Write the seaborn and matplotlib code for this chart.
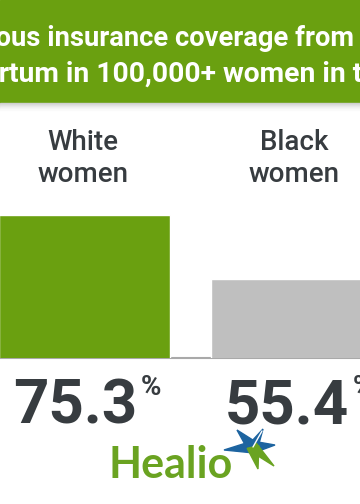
import numpy as np
import pandas as pd
import matplotlib
matplotlib.use("Agg")
import matplotlib.pyplot as plt
import seaborn as sns
from matplotlib.patches import Rectangle, Polygon
from matplotlib.lines import Line2D
from matplotlib.transforms import Affine2D, blended_transform_factory

# ---- data ----
groups = ["White\nwomen", "Black\nwomen"]
coverage = [75.3, 55.4]
value_labels = ["75.3", "55.4"]
title_lines = ["Continuous insurance coverage from",
               "postpartum in 100,000+ women in the U.S."]
brand = "Healio"

# ---- style ----
W, H, DPI = 360, 504, 100
GREEN = "#6aa010"
GRAY_BAR = "#bfbfbf"
TEXT = "#373c40"
LOGO_GREEN = "#6aa321"
LOGO_BLUE = "#1d64a0"

sns.set_theme(style="white")
plt.rcParams['font.family'] = ['Roboto', 'DejaVu Sans']

fig = plt.figure(figsize=(W / DPI, H / DPI), dpi=DPI)
fig.patch.set_facecolor("white")
px = Affine2D().scale(1, -1).translate(0, H)  # pixel coords, origin top-left

# ---- title band ----
fig.patches.append(Rectangle((0, 0), W, 103, transform=px, color=GREEN, zorder=0))
shades = ["#cfcfcf", "#d8d8d8", "#e0e0e0", "#e8e8e8", "#efefef", "#f5f5f5", "#fafafa"]
for k, c in enumerate(shades):
    fig.patches.append(Rectangle((0, 103 + k), W, 1, transform=px, color=c, zorder=0))

fig.text(354, 46, title_lines[0], ha="right", va="baseline", color="white",
         fontsize=19.7, fontweight="bold", transform=px)

fig.canvas.draw()
r = fig.canvas.get_renderer()
def width_of(s, size):
    t = fig.text(0, 0, s, fontsize=size, fontweight="bold")
    w = t.get_window_extent(r).width
    t.remove()
    return w
L2 = 20.3
full_w = width_of(title_lines[1], L2)
suffix_w = width_of("the U.S.", L2)
fig.text(353 - (full_w - suffix_w), 82, title_lines[1], ha="left", va="baseline",
         color="white", fontsize=L2, fontweight="bold", transform=px)

# ---- bars ----
ax = fig.add_axes([0, (H - 358) / H, 1, (358 - 110) / H])
df = pd.DataFrame({"group": groups, "coverage": coverage})
sns.barplot(data=df, x="group", y="coverage", hue="group",
            palette=[GREEN, GRAY_BAR], width=0.81, saturation=1,
            legend=False, ax=ax)
ax.set_xlim(-0.40, 1.30)
ax.set_ylim(31, 108)
ax.axis("off")
ax.axhline(31, color="#a9a9a9", lw=1.5, clip_on=False, zorder=0.5)

bt = blended_transform_factory(ax.transData, px)
for i, g in enumerate(groups):
    l1, l2 = g.split("\n")
    ax.text(i - 0.01, 150, l1, transform=bt, ha="center", va="baseline",
            fontsize=20, fontweight="medium", color=TEXT, clip_on=False)
    ax.text(i - 0.01, 182, l2, transform=bt, ha="center", va="baseline",
            fontsize=20, fontweight="medium", color=TEXT, clip_on=False)
    ax.annotate(value_labels[i], xy=(i, 423), xycoords=bt, xytext=(53, 0),
                textcoords="offset pixels", ha="right", va="baseline",
                fontsize=44.5, fontweight="bold", color=TEXT, annotation_clip=False)
    ax.annotate("%", xy=(i, 395), xycoords=bt, xytext=(56, 0),
                textcoords="offset pixels", ha="left", va="baseline",
                fontsize=20, fontweight="bold", color=TEXT, annotation_clip=False)

# ---- logo ----
fig.text(109, 478, brand, transform=px, ha="left", va="baseline",
         fontsize=31, fontweight="bold", color=LOGO_GREEN, family=["Lato", "DejaVu Sans"])
cx, cy = 253, 447
tips = [((237, 430), LOGO_BLUE, 6), ((263, 429), LOGO_BLUE, 5), ((275, 445), LOGO_BLUE, 6),
        ((224, 450), LOGO_BLUE, 6), ((274, 466), LOGO_GREEN, 5), ((258, 469), LOGO_GREEN, 6)]
for (tx, ty), col, hw in tips:
    v = np.array([tx - cx, ty - cy], float)
    n = np.array([-v[1], v[0]]) / np.hypot(*v) * hw
    poly = [(cx + n[0], cy + n[1]), (tx, ty), (cx - n[0], cy - n[1]), (cx, cy)]
    fig.patches.append(Polygon(poly, closed=True, transform=px, color=col, zorder=2))
fig.lines.append(Line2D([cx, 262], [cy, 431], transform=px, color="white", lw=1.0, zorder=3))

fig.savefig("out.png", dpi=DPI, facecolor="white")
